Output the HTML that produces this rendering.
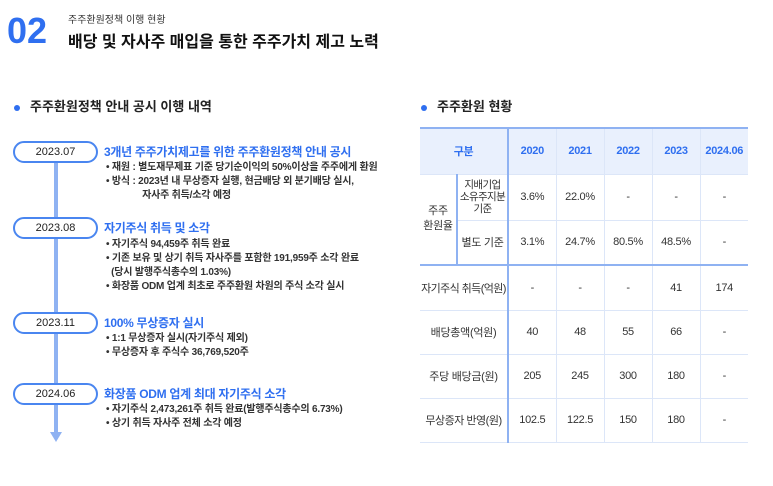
<!DOCTYPE html>
<html><head><meta charset="utf-8"><style>
*{margin:0;padding:0;box-sizing:border-box}
body{width:773px;height:486px;background:#fff;font-family:"Liberation Sans","Noto Sans CJK KR",sans-serif;color:#222;position:relative;overflow:hidden}
.a{position:absolute;white-space:nowrap}
.pill{position:absolute;left:13px;width:85px;height:22px;border:2px solid #4a86f0;border-radius:11px;background:#fff;font-size:11px;text-align:center;line-height:18px;color:#222}
.ht{color:#2f6ff0;font-weight:bold;font-size:12px;letter-spacing:-0.3px}
.li{font-size:10px;color:#333;font-weight:bold;letter-spacing:-0.2px}
table{position:absolute;left:420px;top:127px;border-collapse:collapse;font-size:11px;color:#333;table-layout:fixed;width:328px}
td,th{text-align:center;border-bottom:1px solid #dce6f8;border-left:1px solid #dce6f8;white-space:nowrap;letter-spacing:-0.3px;overflow:hidden}
th{background:#e9f0fd;color:#2f6ff0;font-weight:bold;height:46px;border-top:2px solid #8fb2f2}
</style></head><body>
<div class="a" style="left:7px;top:10px;font-size:36px;font-weight:bold;color:#2f6ff0">02</div>
<div class="a" style="left:68px;top:11px;font-size:10px;color:#333">주주환원정책 이행 현황</div>
<div class="a" style="left:68px;top:28px;font-size:16px;font-weight:bold;color:#111">배당 및 자사주 매입을 통한 주주가치 제고 노력</div>

<div class="a" style="left:14px;top:96px;font-size:13px;font-weight:bold"><span style="display:inline-block;width:6px;height:6px;border-radius:3px;background:#2f6ff0;vertical-align:middle;margin-right:10px"></span>주주환원정책 안내 공시 이행 내역</div>
<div class="a" style="left:421px;top:96px;font-size:13px;font-weight:bold"><span style="display:inline-block;width:6px;height:6px;border-radius:3px;background:#2f6ff0;vertical-align:middle;margin-right:10px"></span>주주환원 현황</div>

<div class="a" style="left:54px;top:160px;width:4px;height:275px;background:#8fb2f2"></div>
<div class="a" style="left:50px;top:432px;width:0;height:0;border-left:6px solid transparent;border-right:6px solid transparent;border-top:10px solid #8fb2f2"></div>

<div class="pill" style="top:141px">2023.07</div>
<div class="a ht" style="left:104px;top:143px">3개년 주주가치제고를 위한 주주환원정책 안내 공시</div>
<div class="a li" style="left:106px;top:161px;line-height:14px">• 재원 : 별도재무제표 기준 당기순이익의 50%이상을 주주에게 환원<br>• 방식 : 2023년 내 무상증자 실행, 현금배당 외 분기배당 실시,<br>&nbsp;&nbsp;&nbsp;&nbsp;&nbsp;&nbsp;&nbsp;&nbsp;&nbsp;&nbsp;&nbsp;&nbsp;&nbsp;&nbsp;자사주 취득/소각 예정</div>

<div class="pill" style="top:217px">2023.08</div>
<div class="a ht" style="left:104px;top:219px">자기주식 취득 및 소각</div>
<div class="a li" style="left:106px;top:238px;line-height:14px">• 자기주식 94,459주 취득 완료<br>• 기존 보유 및 상기 취득 자사주를 포함한 191,959주 소각 완료<br>&nbsp;&nbsp;(당시 발행주식총수의 1.03%)<br>• 화장품 ODM 업계 최초로 주주환원 차원의 주식 소각 실시</div>

<div class="pill" style="top:312px">2023.11</div>
<div class="a ht" style="left:104px;top:314px">100% 무상증자 실시</div>
<div class="a li" style="left:106px;top:332px;line-height:14px">• 1:1 무상증자 실시(자기주식 제외)<br>• 무상증자 후 주식수 36,769,520주</div>

<div class="pill" style="top:383px">2024.06</div>
<div class="a ht" style="left:104px;top:385px">화장품 ODM 업계 최대 자기주식 소각</div>
<div class="a li" style="left:106px;top:403px;line-height:14px">• 자기주식 2,473,261주 취득 완료(발행주식총수의 6.73%)<br>• 상기 취득 자사주 전체 소각 예정</div>

<table>
<colgroup><col style="width:37px"><col style="width:51px"><col style="width:48px"><col style="width:48px"><col style="width:48px"><col style="width:48px"><col style="width:48px"></colgroup>
<tr><th colspan="2" style="border-left:none;border-right:2px solid #8fb2f2">구분</th><th style="border-left:none">2020</th><th>2021</th><th>2022</th><th>2023</th><th>2024.06</th></tr>
<tr style="height:46px"><td rowspan="2" style="border-left:none;border-bottom:2px solid #8fb2f2;border-right:2px solid #8fb2f2;line-height:15px">주주<br>환원율</td><td style="line-height:12px;border-right:2px solid #8fb2f2;font-size:10.5px;letter-spacing:-0.6px">지배기업<br>소유주지분<br>기준</td><td>3.6%</td><td>22.0%</td><td>-</td><td>-</td><td>-</td></tr>
<tr style="height:45px"><td style="border-bottom:2px solid #8fb2f2;border-right:2px solid #8fb2f2">별도 기준</td><td style="border-bottom:2px solid #8fb2f2">3.1%</td><td style="border-bottom:2px solid #8fb2f2">24.7%</td><td style="border-bottom:2px solid #8fb2f2">80.5%</td><td style="border-bottom:2px solid #8fb2f2">48.5%</td><td style="border-bottom:2px solid #8fb2f2">-</td></tr>
<tr style="height:45px"><td colspan="2" style="border-left:none;border-right:2px solid #8fb2f2;letter-spacing:-0.6px">자기주식 취득(억원)</td><td>-</td><td>-</td><td>-</td><td>41</td><td>174</td></tr>
<tr style="height:44px"><td colspan="2" style="border-left:none;border-right:2px solid #8fb2f2">배당총액(억원)</td><td>40</td><td>48</td><td>55</td><td>66</td><td>-</td></tr>
<tr style="height:44px"><td colspan="2" style="border-left:none;border-right:2px solid #8fb2f2">주당 배당금(원)</td><td>205</td><td>245</td><td>300</td><td>180</td><td>-</td></tr>
<tr style="height:44px"><td colspan="2" style="border-left:none;border-right:2px solid #8fb2f2;letter-spacing:-0.5px">무상증자 반영(원)</td><td>102.5</td><td>122.5</td><td>150</td><td>180</td><td>-</td></tr>
</table>
</body></html>
